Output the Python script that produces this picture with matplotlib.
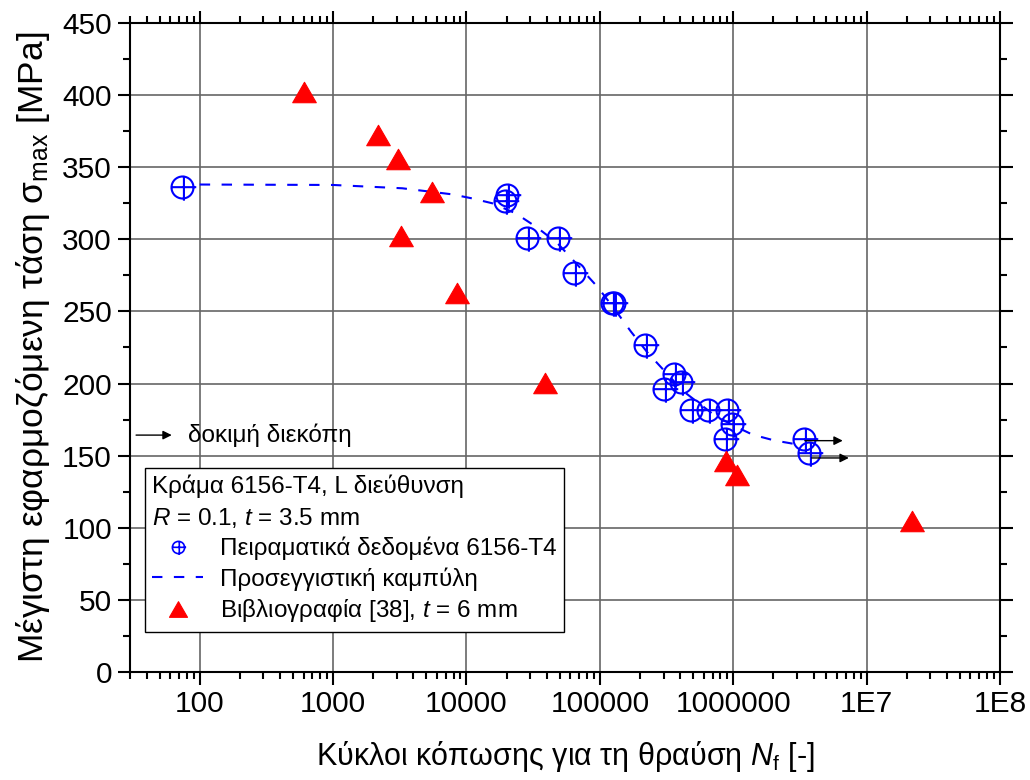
import matplotlib
matplotlib.use("Agg")
import matplotlib.pyplot as plt
from matplotlib.path import Path
from matplotlib.lines import Line2D
from matplotlib.ticker import FixedLocator, LogLocator, MultipleLocator, NullFormatter

plt.rcParams['font.family'] = ['Liberation Sans', 'DejaVu Sans']
plt.rcParams['mathtext.fontset'] = 'custom'
plt.rcParams['mathtext.rm'] = 'Liberation Sans'
plt.rcParams['mathtext.it'] = 'Liberation Sans:italic'

# experimental results, 6156-T4, L direction
exp_n = [74, 19500, 20200, 28400, 48200, 64300, 123000, 128000, 218000, 301000,
         362000, 406000, 483000, 644000, 873000, 894000, 982000, 3370000, 3670000]
exp_s = [336.5, 326.5, 330.5, 301, 301, 276.5, 256, 256, 226.5, 196.5,
         206.5, 201, 181.5, 181.5, 161.5, 181.5, 172, 161.5, 151.5]

# fitted S-N curve
fit_n = [100, 1000, 3300, 7800, 11000, 15600, 23400, 33700, 48100, 70000,
         96000, 128000, 171000, 228000, 418000, 723000, 1050000, 1400000, 2040000, 3140000]
fit_s = [338, 337.7, 335.4, 331.2, 328.4, 325, 318, 308.3, 297.3, 281,
         267, 252, 236, 221.4, 195, 178, 170, 164.5, 160.5, 157.5]

# literature data [38], t = 6 mm
lit_n = [600, 2160, 3060, 3210, 5550, 8550, 39000, 875000, 1065000, 21700000]
lit_s = [402, 372.5, 355.5, 302.5, 332.5, 263, 200.5, 146, 136.6, 105]

# run-outs (test stopped)
runout_n = [3440000, 3870000]
runout_end = [6620000, 7350000]
runout_s = [160.4, 148.4]

xtick_vals = [100, 1000, 10000, 100000, 1000000, 10000000, 100000000]
xtick_labels = ['100', '1000', '10000', '100000', '1000000', '1E7', '1E8']

# circle with a slightly offset cross
circ = Path.unit_circle()
cross = Path([(-1.0, 0.03), (1.25, 0.03), (0.13, 1.05), (0.13, -1.2)],
             [Path.MOVETO, Path.LINETO, Path.MOVETO, Path.LINETO])
crosshair = Path.make_compound_path(circ, cross)
tri = Path([(0, 0.433), (-0.5, -0.433), (0.5, -0.433), (0, 0.433)],
           [Path.MOVETO, Path.LINETO, Path.LINETO, Path.CLOSEPOLY])

fig = plt.figure(figsize=(10.3, 7.8), dpi=100)
ax = fig.add_axes([0.1262, 0.1385, 0.8447, 0.832])

ax.plot(fit_n, fit_s, color='blue', lw=1.5, ls=(0, (5, 5.5)), zorder=3)
ax.plot(exp_n, exp_s, ls='none', marker=crosshair, ms=19.8, mfc='none',
        mec='blue', mew=1.5, zorder=4)
ax.plot(lit_n, lit_s, ls='none', marker=tri, ms=17, mfc='red', mec='red',
        mew=0.8, zorder=5)

for n0, n1, s in zip(runout_n, runout_end, runout_s):
    ax.annotate('', xy=(n1, s), xytext=(n0, s),
                arrowprops=dict(arrowstyle='-|>', color='black', lw=1,
                                mutation_scale=13, shrinkA=0, shrinkB=0), zorder=6)

# run-out key
ax.annotate('', xy=(0.048, 0.365), xytext=(0.007, 0.365), xycoords='axes fraction',
            arrowprops=dict(arrowstyle='-|>', color='black', lw=1,
                            mutation_scale=13, shrinkA=0, shrinkB=0))
ax.text(0.067, 0.365, 'δοκιμή διεκόπη', transform=ax.transAxes, fontsize=17.5,
        va='center', ha='left')

ax.set_xscale('log')
ax.set_xlim(30, 1e8)
ax.set_ylim(0, 450)
ax.xaxis.set_major_locator(FixedLocator(xtick_vals))
ax.set_xticklabels(xtick_labels)
ax.xaxis.set_minor_locator(LogLocator(base=10, subs=range(2, 10), numticks=20))
ax.xaxis.set_minor_formatter(NullFormatter())
ax.yaxis.set_major_locator(MultipleLocator(50))
ax.yaxis.set_minor_locator(MultipleLocator(25))

ax.tick_params(which='both', direction='out', top=True, right=True,
               labelsize=21.5, width=1.5, pad=4)
ax.tick_params(which='major', length=9)
ax.tick_params(which='minor', length=5)
for sp in ax.spines.values():
    sp.set_linewidth(1.5)

ax.grid(True, which='major', color='#666666', lw=1.2)
ax.set_axisbelow(True)

ax.set_xlabel('Κύκλοι κόπωσης για τη θραύση $N_\\mathrm{f}$ [-]', fontsize=22, labelpad=15)
ax.set_ylabel('Μέγιστη εφαρμοζόμενη τάση σ$_\\mathrm{max}$ [MPa]', fontsize=25.5, labelpad=7)

handles = [
    Line2D([], [], ls='none', marker=crosshair, ms=11, mfc='none', mec='blue', mew=1.2),
    Line2D([], [], color='blue', lw=1.5, ls=(0, (5, 5.5))),
    Line2D([], [], ls='none', marker=tri, ms=13, mfc='red', mec='red', mew=0.8),
]
labels = ['Πειραματικά δεδομένα 6156-T4', 'Προσεγγιστική καμπύλη',
          'Βιβλιογραφία [38], $t$ = 6 mm']
leg = ax.legend(handles, labels, loc='lower left', bbox_to_anchor=(0.017, 0.062),
                borderaxespad=0, fontsize=17.5, title_fontsize=17.5,
                title='Κράμα 6156-T4, L διεύθυνση\n$R$ = 0.1, $t$ = 3.5 mm',
                alignment='left', fancybox=False, framealpha=1, edgecolor='black',
                borderpad=0.3, handlelength=2.1, handletextpad=0.7, labelspacing=0.28)
leg.get_frame().set_linewidth(1.0)
leg.get_title().set_linespacing(1.4)

fig.savefig('out.png', dpi=100)
